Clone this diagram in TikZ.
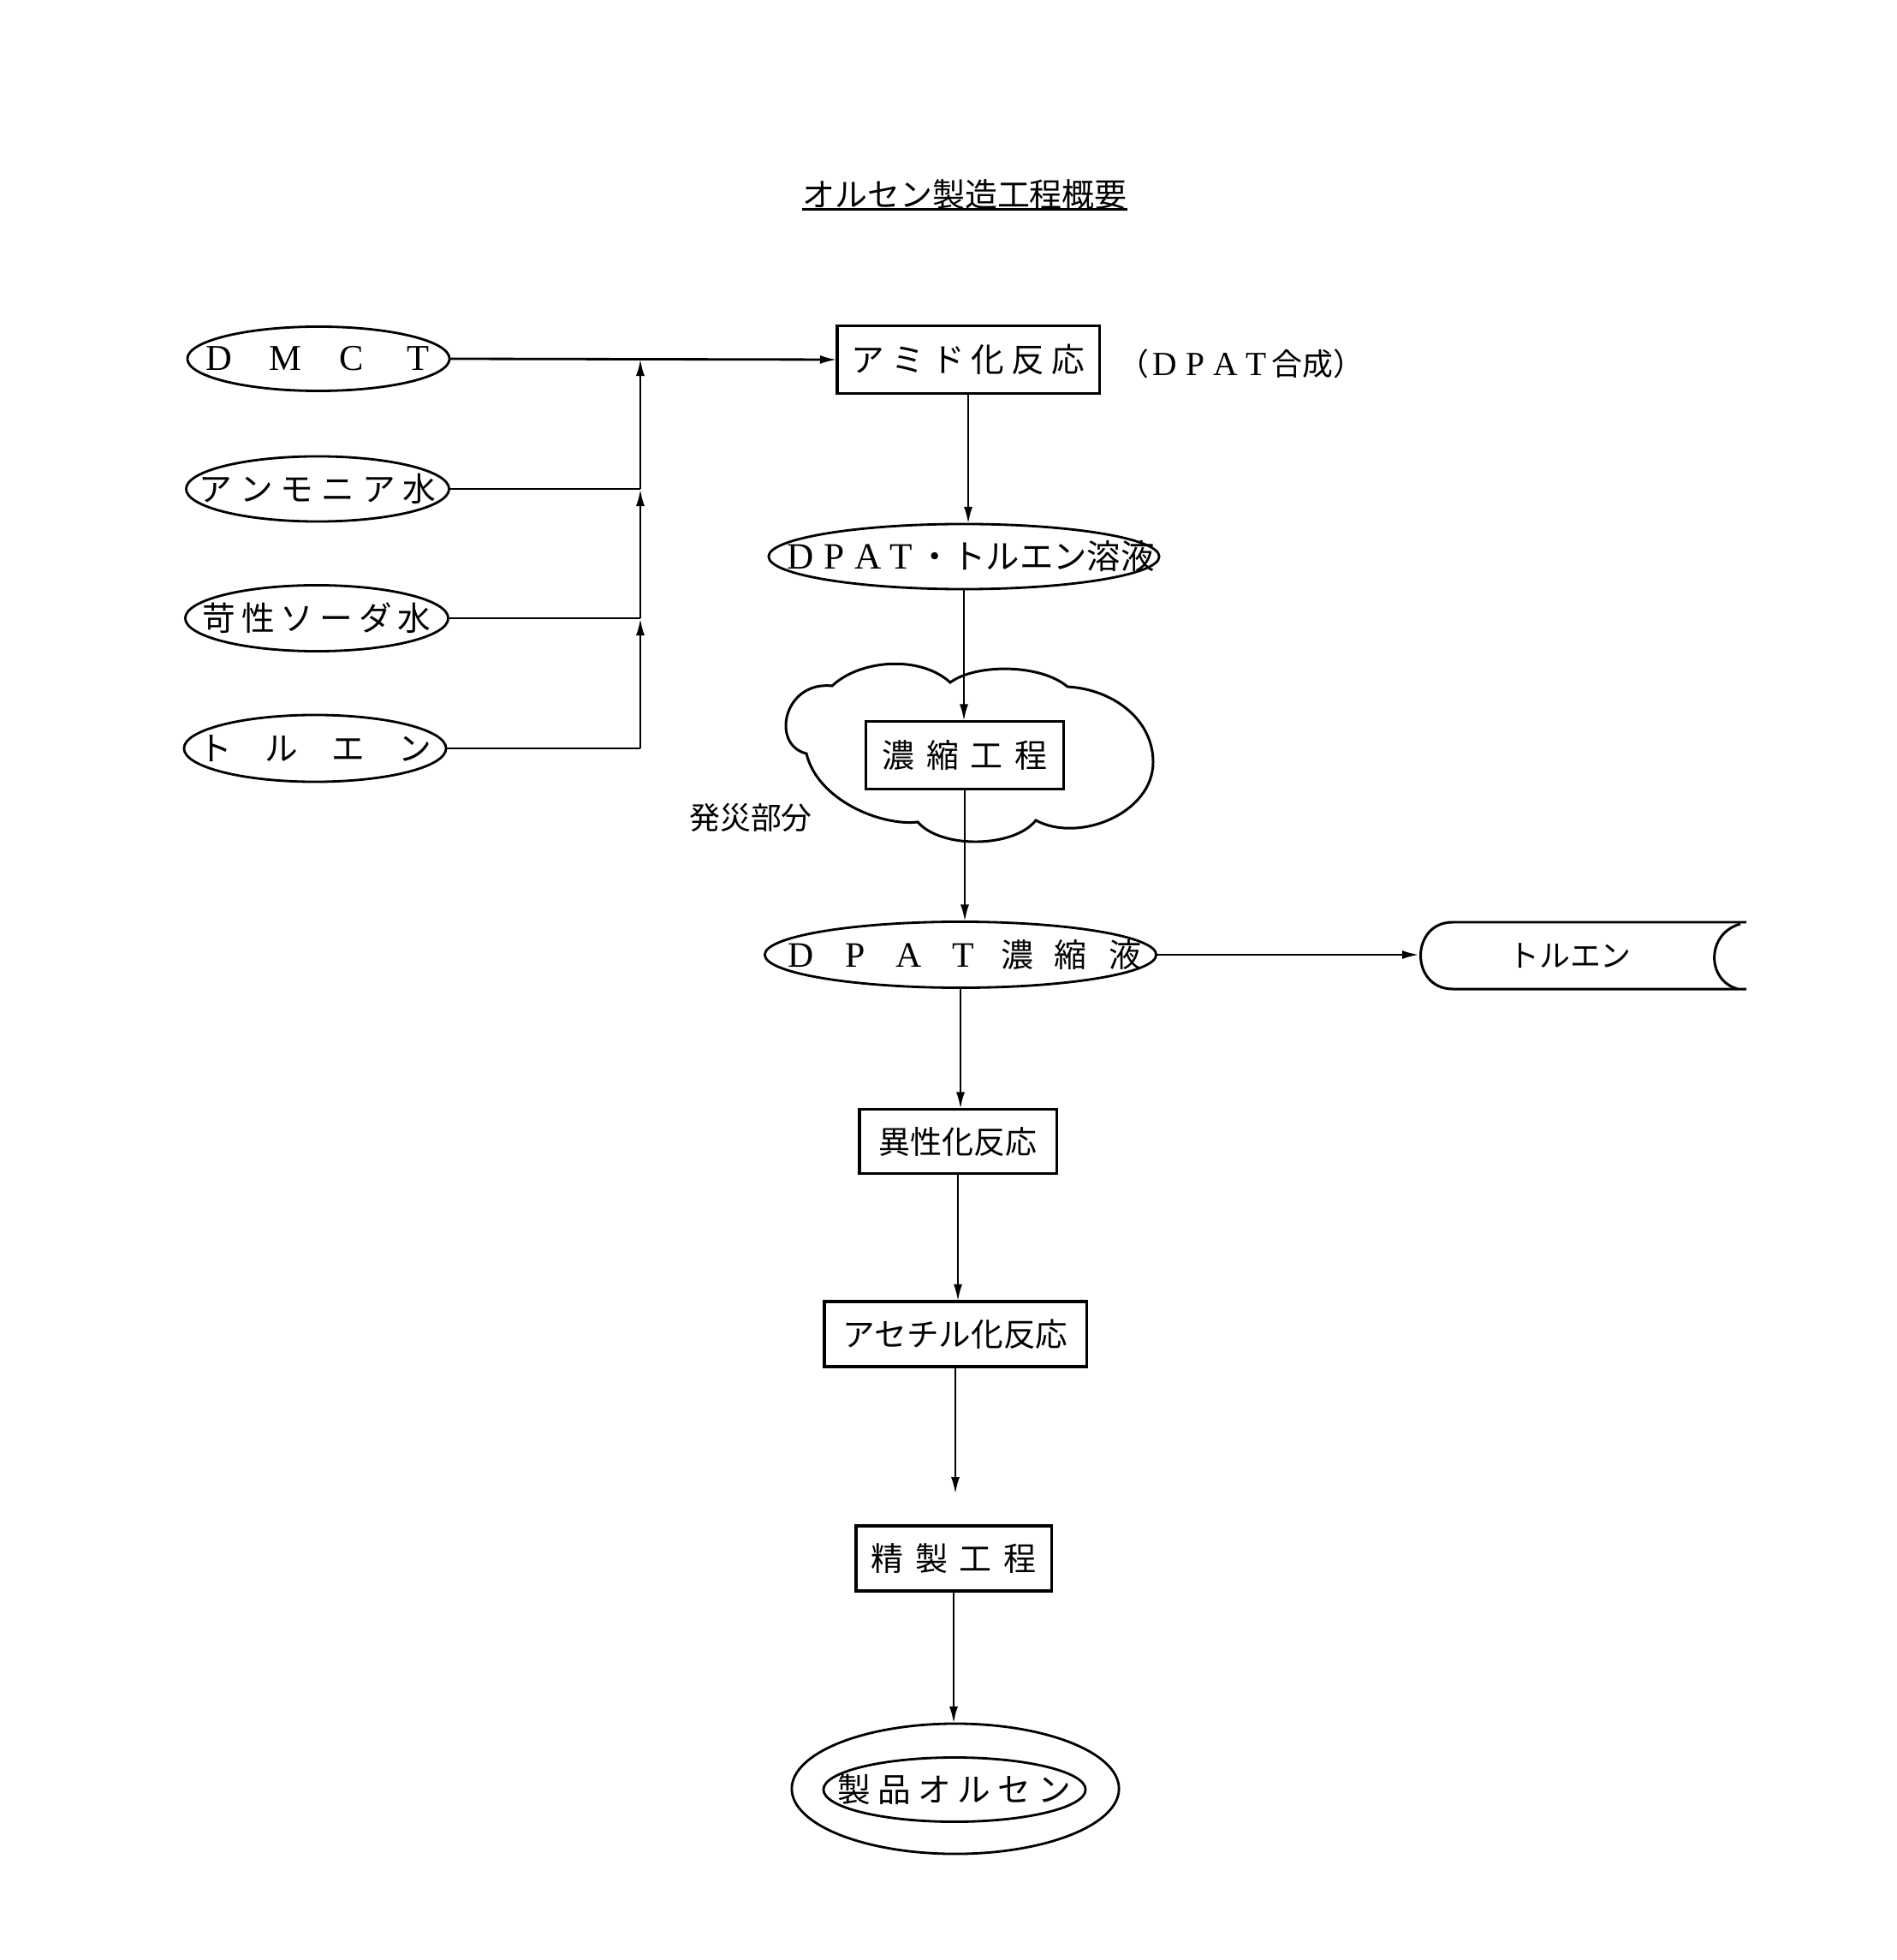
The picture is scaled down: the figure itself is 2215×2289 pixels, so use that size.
\documentclass[tikz,border=0pt]{standalone}
\usepackage{fontspec}
\setmainfont{Noto Sans CJK JP}
\newfontfamily\lat[Scale=1.1]{Liberation Serif}
\usetikzlibrary{shapes.geometric,arrows.meta}
\newcommand\sz[1]{\fontsize{#1}{#1}\selectfont}
\newcommand\fw[1]{\makebox[1em]{\lat #1}}
\makeatletter
\newcommand\sptxt[2]{%
  \begingroup\def\st@first{T}%
  \@tfor\st@c:=#2\do{%
    \if T\st@first\def\st@first{F}\else\hspace{#1}\fi
    \st@c}%
  \endgroup}
\makeatother
\begin{document}
\begin{tikzpicture}[x=0.01cm,y=-0.01cm,
  every node/.style={inner sep=0pt,outer sep=0pt},
  conn/.style={line width=0.8pt},
  arr/.style={line width=0.8pt,-{Latex[length=0.2cm,width=0.1cm]}},
  ell/.style={draw,ellipse,line width=0.8pt,inner sep=0pt},
  proc/.style={draw,rectangle,line width=0.9pt,inner sep=0pt},
  txt/.style={inner sep=0pt}]
\useasboundingbox (0,0) rectangle (2215,2289);

% title
\node[txt] (title) at (1127,227) {\sz{10.8pt}オルセン製造工程概要};
\draw[line width=0.6pt] (title.south west) -- (title.south east);

% left inputs
\node[ell,minimum width=3.06cm,minimum height=0.75cm] (dmct) at (372,419) {};
\node[txt] (dmctT) at (dmct.center) {\sz{11pt}\sptxt{0.39cm}{{\fw{D}}{\fw{M}}{\fw{C}}{\fw{T}}}};
\node[ell,minimum width=3.07cm,minimum height=0.76cm] (amm) at (371,571) {};
\node[txt] (ammT) at (amm.center) {\sz{11pt}\sptxt{0.09cm}{アンモニア水}};
\node[ell,minimum width=3.07cm,minimum height=0.77cm] (soda) at (370,722) {};
\node[txt] (sodaT) at (soda.center) {\sz{11pt}\sptxt{0.07cm}{苛性ソーダ水}};
\node[ell,minimum width=3.06cm,minimum height=0.78cm] (tolL) at (368,874) {};
\node[txt] (tolLT) at (tolL.center) {\sz{11pt}\sptxt{0.39cm}{トルエン}};

% amide reaction
\node[proc,minimum width=3.06cm,minimum height=0.79cm] (amide) at (1131,420) {\sz{11pt}\sptxt{0.08cm}{アミド化反応}};
\node[txt] (dpatsyn) at (1450,425) {\sz{10.2pt}（{\fw{D}}{\fw{P}}{\fw{A}}{\fw{T}}合成）};

% junction
\coordinate (jd) at (748,419);
\coordinate (ja) at (amm.east -| jd);
\coordinate (js) at (soda.east -| jd);
\coordinate (jt) at (tolL.east -| jd);
\draw[arr] (dmct.east) -- (amide.west);
\draw[conn] (amm.east) -- (ja);
\draw[conn] (soda.east) -- (js);
\draw[conn] (tolL.east) -- (jt);
\draw[arr] (jt) -- (js);
\draw[arr] (js) -- (ja);
\draw[arr] (ja) -- (jd);

% DPAT toluene solution
\node[ell,minimum width=4.56cm,minimum height=0.76cm] (dpat) at (1126,650) {};
\node[txt] (dpatT) at ([xshift=0.06cm]dpat.center) {\sz{11.2pt}{\fw{D}}{\fw{P}}{\fw{A}}{\fw{T}}・トルエン溶液};

% cloud
\draw[line width=0.85pt]
  (972,801) .. controls (1005,770) and (1075,765) .. (1110,797)
  .. controls (1140,775) and (1215,775) .. (1247,802)
  .. controls (1300,805) and (1347,840) .. (1347,890)
  .. controls (1347,950) and (1260,985) .. (1210,958)
  .. controls (1185,990) and (1100,992) .. (1072,960)
  .. controls (1030,965) and (955,935) .. (942,880)
  .. controls (900,870) and (915,795) .. cycle;

% concentration
\node[proc,minimum width=2.31cm,minimum height=0.79cm] (cond) at (1127,882) {\sz{10.8pt}\sptxt{0.14cm}{濃縮工程}};
\node[txt] (fire) at (877,955) {\sz{10.2pt}発災部分};

% DPAT concentrate
\node[ell,minimum width=4.57cm,minimum height=0.77cm] (dpatc) at (1122,1115) {};
\node[txt] (dpatcT) at ([xshift=0.03cm]dpatc.center) {\sz{10.8pt}\sptxt{0.25cm}{{\fw{D}}{\fw{P}}{\fw{A}}{\fw{T}}濃縮液}};

% toluene tank
\coordinate (tankL) at (1658,1116);
\draw[line width=0.85pt] (2040,1077) -- (1697,1077)
  .. controls (1647,1077) and (1647,1155) .. (1697,1155) -- (2040,1155);
\draw[line width=0.85pt] (2033,1079) .. controls (1993,1090) and (1993,1145) .. (2030,1155);
\node[txt] (tankT) at (1834,1116) {\sz{10.2pt}トルエン};

% lower chain
\node[proc,minimum width=2.30cm,minimum height=0.75cm] (iso) at (1119,1333) {\sz{10.5pt}異性化反応};
\node[proc,minimum width=3.06cm,minimum height=0.76cm] (acet) at (1116,1558) {\sz{10.7pt}アセチル化反応};
\coordinate (afree) at (1116,1745);
\node[proc,minimum width=2.28cm,minimum height=0.76cm] (pur) at (1114,1820) {\sz{10.8pt}\sptxt{0.14cm}{精製工程}};
\node[ell,minimum width=3.82cm,minimum height=1.52cm] (outer) at (1116,2089) {};
\node[ell,minimum width=3.06cm,minimum height=0.75cm] (inner) at (1115,2090) {};
\node[txt] (prodT) at (inner.center) {\sz{11pt}\sptxt{0.08cm}{製品オルセン}};

% vertical flow
\draw[arr] (amide.south) -- (amide.south |- dpat.north);
\draw[arr] (dpat.south) -- (dpat.south |- cond.north);
\draw[arr] (cond.south) -- (cond.south |- dpatc.north);
\draw[arr] (dpatc.east) -- (dpatc.east -| tankL);
\draw[arr] (dpatc.south) -- (dpatc.south |- iso.north);
\draw[arr] (iso.south) -- (iso.south |- acet.north);
\draw[arr] (acet.south) -- (acet.south |- afree);
\draw[arr] (pur.south) -- (pur.south |- outer.north);
\end{tikzpicture}
\end{document}
